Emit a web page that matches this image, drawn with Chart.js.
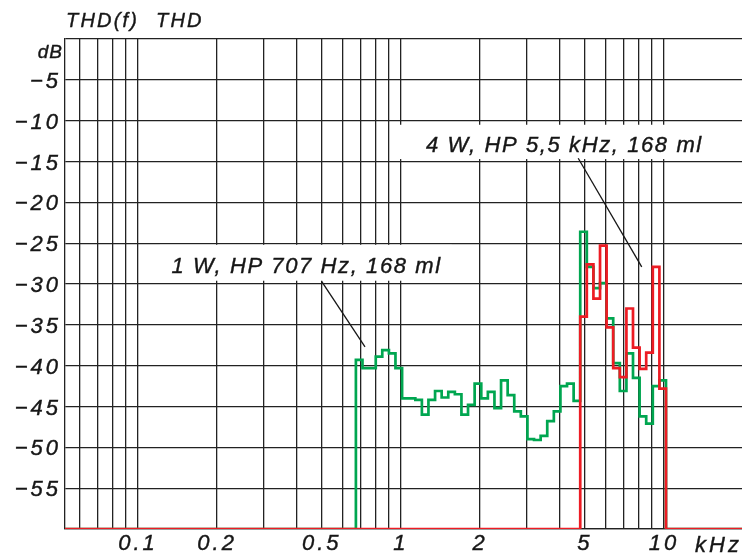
<!DOCTYPE html>
<html>
<head>
<meta charset="utf-8">
<script src="https://cdn.jsdelivr.net/npm/chart.js@4.4.0/dist/chart.umd.min.js"></script>
<style>
  html, body { margin: 0; padding: 0; background: #fff; }
  #wrap { width: 742px; height: 558px; }
</style>
</head>
<body>
<div id="wrap"><canvas id="myChart" width="742" height="558"></canvas></div>
<script>
// bin edges in kHz (1/12 octave bins), last one closes bin 46
const binEdges = [0.674, 0.714, 0.757, 0.802, 0.849, 0.900, 0.953, 1.010, 1.070, 1.134,
  1.201, 1.272, 1.348, 1.428, 1.513, 1.603, 1.698, 1.799, 1.906, 2.020,
  2.140, 2.267, 2.402, 2.545, 2.696, 2.856, 3.026, 3.206, 3.397, 3.599,
  3.813, 4.039, 4.280, 4.534, 4.804, 5.089, 5.392, 5.713, 6.052, 6.412,
  6.794, 7.198, 7.625, 8.079, 8.559, 9.068, 9.608, 10.179];

// 1 W, HP 707 Hz - bins 0..46
const green1W = [-39.3, -40.3, -40.3, -38.9, -38.1, -38.5, -40.3, -44.0, -44.0, -44.2,
  -46.0, -44.2, -43.1, -43.9, -43.2, -43.5, -46.0, -44.8, -42.2, -44.0,
  -43.2, -45.2, -41.8, -43.6, -45.6, -46.2, -49.0, -49.1, -48.6, -46.8,
  -45.6, -42.5, -42.2, -44.3, -23.6, -27.9, -30.5, -29.9, -34.2, -39.7,
  -43.1, -38.5, -41.5, -46.2, -47.1, -42.5, -41.8];
const greenFirstBin = 0;

// 4 W, HP 5,5 kHz - bins 34..46
const red4W = [-34.0, -27.6, -31.8, -25.3, -35.3, -40.3, -41.4, -33.0, -37.8, -40.4,
  -38.4, -27.9, -42.8];
const redFirstBin = 34;

const floorDb = -60;
const xMin = 0.0528, xMax = 19.8;
const gridFreqs = [0.06, 0.07, 0.08, 0.09, 0.1, 0.2, 0.3, 0.4, 0.5, 0.6, 0.7, 0.8, 0.9,
  1, 2, 3, 4, 5, 6, 7, 8, 9, 10];
const labeledFreqs = [0.1, 0.2, 0.5, 1, 2, 5, 10];

function steps(values, first) {
  const pts = [{ x: xMin, y: floorDb }];
  values.forEach((v, i) => pts.push({ x: binEdges[first + i], y: v }));
  pts.push({ x: binEdges[first + values.length], y: floorDb });
  pts.push({ x: xMax, y: floorDb });
  return pts;
}

const italic = (size) => ({ family: "'Liberation Sans', Arial, sans-serif", style: 'italic', size });
const ink = '#161616';

const decor = {
  id: 'decor',
  beforeDraw(chart) {
    chart.ctx.letterSpacing = '3px';
  },
  beforeDatasetsDraw(chart) {
    const { ctx, scales: { x, y } } = chart;
    ctx.save();
    ctx.fillStyle = '#fff';
    // label boxes
    [[0.121, 1.56, -25.2, -29.6], [0.974, 15.2, -10.5, -14.7]].forEach(b => {
      const l = x.getPixelForValue(b[0]), r = x.getPixelForValue(b[1]);
      const t = y.getPixelForValue(b[2]), bt = y.getPixelForValue(b[3]);
      ctx.fillRect(l, t, r - l, bt - t);
    });
    ctx.restore();
  },
  afterDatasetsDraw(chart) {
    const { ctx, scales: { x, y } } = chart;
    ctx.save();
    ctx.fillStyle = ink;
    ctx.strokeStyle = ink;
    ctx.lineWidth = 0.4;
    ctx.font = "italic 22px 'Liberation Sans', Arial, sans-serif";
    ctx.letterSpacing = '1.6px';
    ctx.textAlign = 'left';
    ctx.textBaseline = 'alphabetic';
    [['1 W, HP 707 Hz, 168 ml', 0.134, -28.7], ['4 W, HP 5,5 kHz, 168 ml', 1.245, -13.8]].forEach(t => {
      ctx.fillText(t[0], x.getPixelForValue(t[1]), y.getPixelForValue(t[2]));
      ctx.strokeText(t[0], x.getPixelForValue(t[1]), y.getPixelForValue(t[2]));
    });
    ctx.lineWidth = 1.3;
    [[0.5, -29.7, 0.73, -37.7], [4.72, -14.6, 8.23, -27.9]].forEach(l => {
      ctx.beginPath();
      ctx.moveTo(x.getPixelForValue(l[0]), y.getPixelForValue(l[1]));
      ctx.lineTo(x.getPixelForValue(l[2]), y.getPixelForValue(l[3]));
      ctx.stroke();
    });
    ctx.restore();
  },
  afterDraw(chart) {
    const { ctx, chartArea } = chart;
    ctx.save();
    ctx.fillStyle = ink;
    ctx.strokeStyle = ink;
    ctx.lineWidth = 0.4;
    ctx.textBaseline = 'alphabetic';
    ctx.font = "italic 20px 'Liberation Sans', Arial, sans-serif";
    ctx.letterSpacing = '2.2px';
    ctx.textAlign = 'left';
    ctx.fillText('THD(f)', 66, 27);
    ctx.strokeText('THD(f)', 66, 27);
    ctx.fillText('THD', 156, 27);
    ctx.strokeText('THD', 156, 27);
    ctx.textAlign = 'right';
    ctx.font = "italic 19px 'Liberation Sans', Arial, sans-serif";
    ctx.letterSpacing = '1px';
    ctx.fillText('dB', chartArea.left - 2, 58);
    ctx.strokeText('dB', chartArea.left - 2, 58);
    ctx.font = "italic 22px 'Liberation Sans', Arial, sans-serif";
    ctx.letterSpacing = '3px';
    ctx.fillText('kHz', 742, 552);
    ctx.strokeText('kHz', 742, 552);
    ctx.restore();
  }
};

const tickFont = {
  color: ink,
  font: italic(22),
  textStrokeColor: ink,
  textStrokeWidth: 0.4
};

const ctx = document.getElementById('myChart').getContext('2d');
const chart = new Chart(ctx, {
  type: 'line',
  data: {
    datasets: [
      {
        label: '4 W, HP 5,5 kHz, 168 ml',
        data: steps(red4W, redFirstBin),
        borderColor: '#ed1c24',
        borderWidth: 2.7,
        stepped: 'before',
        pointRadius: 0,
        borderJoinStyle: 'miter',
        fill: false
      },
      {
        label: '1 W, HP 707 Hz, 168 ml',
        data: steps(green1W, greenFirstBin),
        borderColor: '#00a650',
        borderWidth: 2.7,
        stepped: 'before',
        pointRadius: 0,
        borderJoinStyle: 'miter',
        fill: false
      }
    ]
  },
  options: {
    responsive: false,
    animation: false,
    events: [],
    layout: { padding: { top: 39, right: 0, left: 0, bottom: 0 } },
    plugins: { legend: { display: false }, tooltip: { enabled: false }, title: { display: false } },
    scales: {
      x: {
        type: 'logarithmic',
        min: xMin,
        max: xMax,
        afterBuildTicks: (scale) => { scale.ticks = gridFreqs.map(v => ({ value: v })); },
        afterFit: (scale) => { scale.height = 29; },
        ticks: Object.assign({
          autoSkip: false,
          maxRotation: 0,
          padding: 2,
          callback: (v) => labeledFreqs.includes(v) ? String(v) : ''
        }, tickFont),
        grid: { color: '#222', lineWidth: 1.3, drawTicks: false },
        border: { color: '#222', width: 1.3 }
      },
      y: {
        min: floorDb,
        max: 0,
        afterFit: (scale) => { scale.width = 65; },
        ticks: Object.assign({
          stepSize: 5,
          padding: 4,
          labelOffset: 2,
          callback: (v) => (v === 0 || v === floorDb) ? '' : '\u2212' + Math.abs(v)
        }, tickFont),
        grid: { color: '#222', lineWidth: 1.3, drawTicks: false },
        border: { color: '#222', width: 1.3 }
      }
    }
  },
  plugins: [decor]
});
</script>
</body>
</html>
